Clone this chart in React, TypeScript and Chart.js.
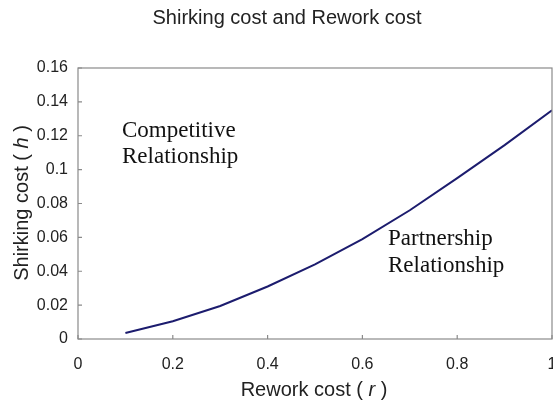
import React, { useEffect, useRef } from "react";
import { Chart, registerables } from "chart.js";

Chart.register(...registerables);

const chartTitle = "Shirking cost and Rework cost";
const reworkCost = [0.1, 0.2, 0.3, 0.4, 0.5, 0.6, 0.7, 0.8, 0.9, 1.0];
const shirkingCost = [0.0035, 0.0105, 0.0195, 0.031, 0.044, 0.059, 0.076, 0.095, 0.1145, 0.135];
const xTickLabels = ["0", "0.2", "0.4", "0.6", "0.8", "1"];
const yTickLabels = ["0", "0.02", "0.04", "0.06", "0.08", "0.1", "0.12", "0.14", "0.16"];
const competitiveLines = ["Competitive", "Relationship"];
const partnershipLines = ["Partnership", "Relationship"];

const SANS = "'Liberation Sans', Arial, sans-serif";
const SERIF = "'Liberation Serif', 'Times New Roman', serif";

function drawMixed(ctx: CanvasRenderingContext2D, parts: { t: string; it?: boolean }[], size: number, cx: number, cy: number) {
  const fonts = parts.map((p) => `${p.it ? "italic " : ""}${size}px ${SANS}`);
  let total = 0;
  const widths = parts.map((p, i) => {
    ctx.font = fonts[i];
    const w = ctx.measureText(p.t).width;
    total += w;
    return w;
  });
  let x = cx - total / 2;
  ctx.textBaseline = "middle";
  ctx.textAlign = "left";
  parts.forEach((p, i) => {
    ctx.font = fonts[i];
    ctx.fillText(p.t, x, cy);
    x += widths[i];
  });
}

const decorPlugin = {
  id: "decor",
  afterDraw(chart: any) {
    const ctx: CanvasRenderingContext2D = chart.ctx;
    const a = chart.chartArea;
    const xs = chart.scales.x;
    const ys = chart.scales.y;
    ctx.save();
    // box
    ctx.strokeStyle = "#8a8a8a";
    ctx.lineWidth = 1.2;
    ctx.strokeRect(a.left, a.top, a.right - a.left, a.bottom - a.top);
    // inward ticks
    ctx.beginPath();
    xs.ticks.forEach((t: any) => {
      const px = xs.getPixelForValue(t.value);
      ctx.moveTo(px, a.bottom);
      ctx.lineTo(px, a.bottom - 4);
    });
    ys.ticks.forEach((t: any) => {
      const py = ys.getPixelForValue(t.value);
      ctx.moveTo(a.left, py);
      ctx.lineTo(a.left + 4, py);
    });
    ctx.stroke();

    ctx.fillStyle = "#222";
    // title
    ctx.font = `20px ${SANS}`;
    ctx.textAlign = "center";
    ctx.textBaseline = "middle";
    ctx.fillText(chartTitle, 287, 18);
    // x axis title
    drawMixed(ctx, [{ t: "Rework cost ( " }, { t: "r", it: true }, { t: " )" }], 20, 314, 390);
    // y axis title
    ctx.save();
    ctx.translate(22, 203);
    ctx.rotate(-Math.PI / 2);
    drawMixed(ctx, [{ t: "Shirking cost ( " }, { t: "h", it: true }, { t: " )" }], 20, 0, 0);
    ctx.restore();

    // region annotations
    ctx.fillStyle = "#111";
    ctx.font = `23px ${SERIF}`;
    ctx.textAlign = "left";
    ctx.textBaseline = "alphabetic";
    competitiveLines.forEach((s, i) => ctx.fillText(s, 122, 137 + i * 26));
    partnershipLines.forEach((s, i) => ctx.fillText(s, 388, 245 + i * 27));
    ctx.restore();
  },
};

export default function App() {
  const ref = useRef<HTMLCanvasElement>(null);
  useEffect(() => {
    document.body.style.margin = "0";
    const canvas = ref.current!;
    const chart = new Chart(canvas, {
      type: "line",
      data: {
        datasets: [
          {
            data: reworkCost.map((x, i) => ({ x, y: shirkingCost[i] })),
            borderColor: "#1c1c6e",
            borderWidth: 2,
            pointRadius: 0,
            tension: 0,
            fill: false,
          },
        ],
      },
      options: {
        animation: false,
        responsive: false,
        layout: { padding: { left: 0, right: 1, top: 68, bottom: 0 } },
        plugins: { legend: { display: false }, tooltip: { enabled: false }, title: { display: false } },
        scales: {
          x: {
            type: "linear",
            min: 0,
            max: 1,
            grid: { display: false, drawTicks: false },
            border: { display: false },
            ticks: {
              stepSize: 0.2,
              padding: 16,
              maxRotation: 0,
              color: "#222",
              font: { family: SANS, size: 16 },
              callback: (_v: any, i: number) => xTickLabels[i],
            },
            afterFit: (s: any) => {
              s.height = 65;
              s.paddingLeft = 0;
              s.paddingRight = 0;
            },
          },
          y: {
            min: 0,
            max: 0.16,
            grid: { display: false, drawTicks: false },
            border: { display: false },
            ticks: {
              stepSize: 0.02,
              padding: 10,
              color: "#222",
              font: { family: SANS, size: 16 },
              callback: (_v: any, i: number) => yTickLabels[i],
            },
            afterFit: (s: any) => {
              s.width = 78;
              s.paddingTop = 0;
              s.paddingBottom = 0;
            },
          },
        },
      },
      plugins: [decorPlugin],
    } as any);
    return () => chart.destroy();
  }, []);
  return (
    <div style={{ width: 553, height: 404 }}>
      <canvas ref={ref} width={553} height={404} />
    </div>
  );
}
